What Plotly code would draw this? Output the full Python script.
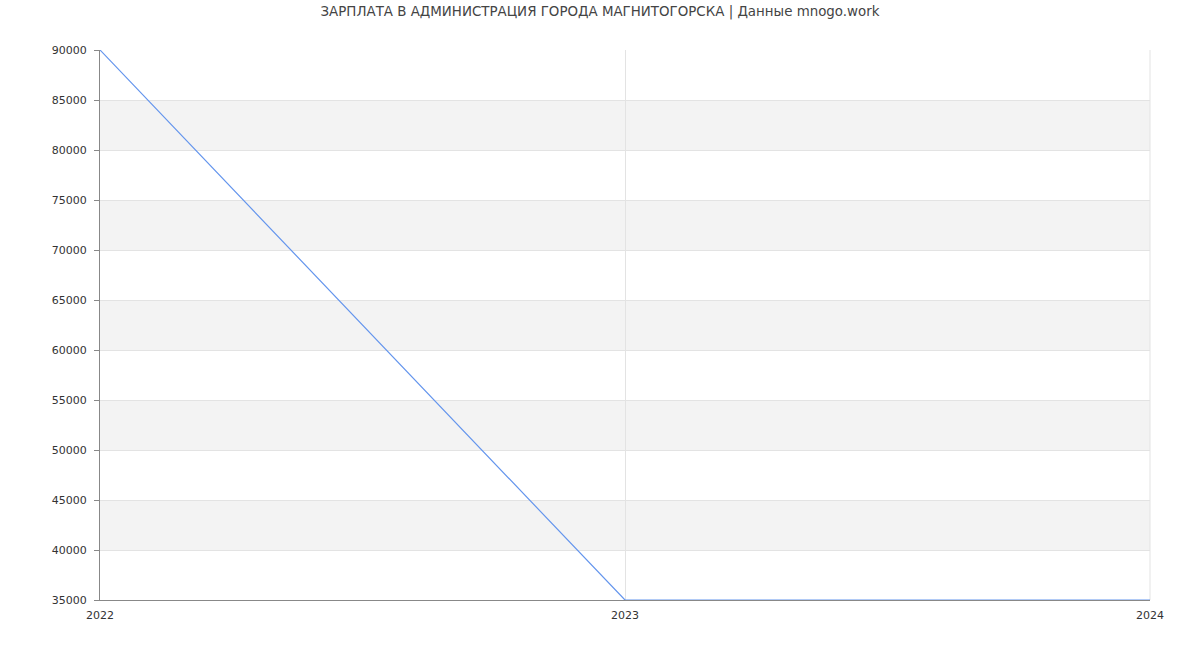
import plotly.graph_objects as go

title_text = "ЗАРПЛАТА В АДМИНИСТРАЦИЯ ГОРОДА МАГНИТОГОРСКА | Данные mnogo.work"
years = [2022, 2023, 2024]
salary = [90000, 35000, 35000]
y_ticks = list(range(35000, 90001, 5000))
x_ticks = [2022, 2023, 2024]

fig = go.Figure()

# alternating background bands
shapes = []
for i in range(len(y_ticks) - 1):
    if i % 2 == 1:
        shapes.append(dict(type="rect", xref="paper", yref="y", x0=0, x1=1,
                           y0=y_ticks[i], y1=y_ticks[i + 1],
                           fillcolor="#f3f3f3", line=dict(width=0), layer="below"))

fig.add_trace(go.Scatter(x=years, y=salary, mode="lines",
                         line=dict(color="#6495ed", width=1.2),
                         hoverinfo="x+y", showlegend=False))

fig.update_layout(
    width=1200, height=650,
    margin=dict(l=100, r=50, t=50, b=50),
    paper_bgcolor="white", plot_bgcolor="white",
    font=dict(family="DejaVu Sans", size=11, color="#444"),
    title=dict(text=title_text, x=0.5, xanchor="center", y=0.982, yanchor="middle",
               font=dict(family="DejaVu Sans", size=13.4, color="#444")),
    shapes=shapes,
)
fig.update_xaxes(range=[2022, 2024], tickvals=x_ticks, ticktext=[str(v) for v in x_ticks],
                 showgrid=True, gridcolor="#e3e3e3", gridwidth=1,
                 showline=True, linecolor="#888", linewidth=1, mirror=False,
                 ticks="", zeroline=False, ticklabelstandoff=5,
                 tickfont=dict(size=11, color="#333"))
fig.update_yaxes(range=[35000, 90000], tickvals=y_ticks, ticktext=[str(v) for v in y_ticks],
                 showgrid=True, gridcolor="#e3e3e3", gridwidth=1,
                 showline=True, linecolor="#888", linewidth=1,
                 ticks="outside", ticklen=5, tickcolor="#888", ticklabelstandoff=5,
                 zeroline=False, tickfont=dict(size=11, color="#333"))
# right border line
fig.add_shape(type="line", xref="paper", yref="paper", x0=1, x1=1, y0=0, y1=1,
              line=dict(color="#e3e3e3", width=1), layer="below")

fig.write_html("out.html")
